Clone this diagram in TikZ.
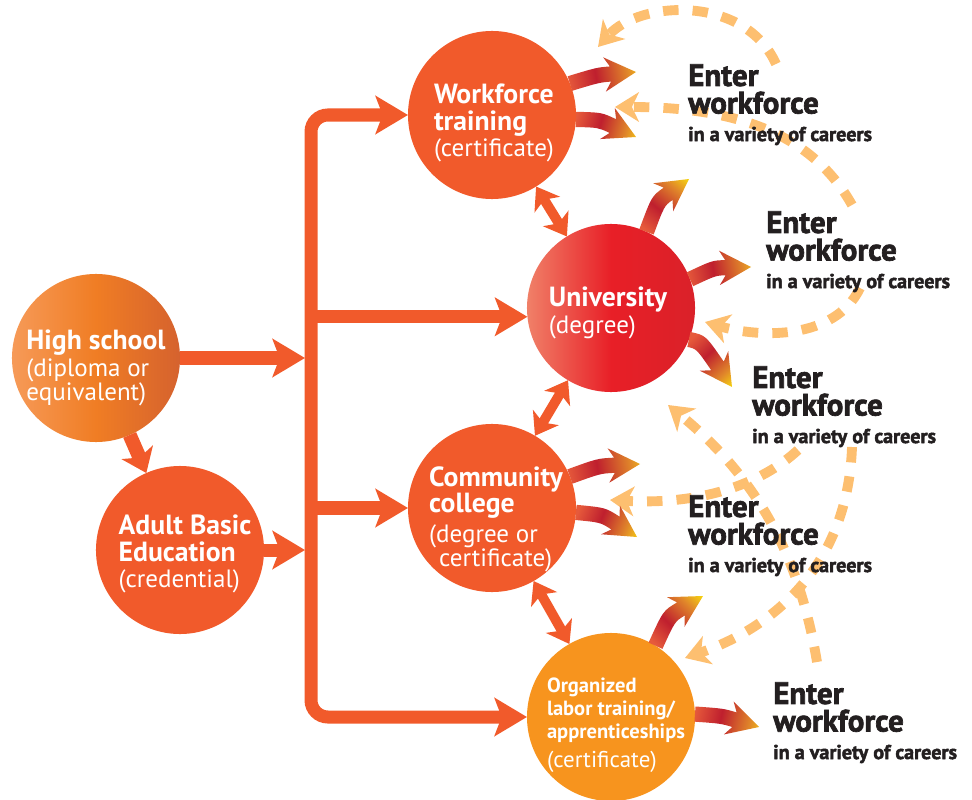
\documentclass[tikz,border=0pt]{standalone}
\usepackage{fontspec}
\setmainfont{PT Sans}
\newfontfamily\heavyfont{PT Sans}[BoldFeatures={FakeBold=2.2}]
\usetikzlibrary{arrows.meta,calc}

\definecolor{pathorange}{HTML}{F15A2B}
\definecolor{hslight}{HTML}{F69A58}
\definecolor{hsmid}{HTML}{F07D24}
\definecolor{hsdark}{HTML}{D5622E}
\definecolor{unilight}{HTML}{F08068}
\definecolor{unired}{HTML}{E81F27}
\definecolor{unidark}{HTML}{DA2129}
\definecolor{laborgold}{HTML}{F7941E}
\definecolor{loopbeige}{HTML}{FDBF70}
\definecolor{inkblack}{HTML}{231F20}
\definecolor{jobbase}{HTML}{E65A3B}
\definecolor{jobcrimson}{HTML}{BF1F2E}
\definecolor{jobamber}{HTML}{E0862A}
\definecolor{jobyellow}{HTML}{F7D80F}

\pgfdeclarehorizontalshading{jobfade}{100bp}{color(0bp)=(jobbase); color(22bp)=(jobbase); color(45bp)=(jobcrimson); color(70bp)=(jobamber); color(86bp)=(jobyellow); color(100bp)=(jobyellow)}

\newcommand{\titlef}{\fontsize{19.7}{19}\selectfont\bfseries}
\newcommand{\parenf}{\fontsize{17.8}{19}\selectfont\mdseries}
\newcommand{\smalltitlef}{\fontsize{14.6}{16.5}\selectfont\bfseries}
\newcommand{\smallparenf}{\fontsize{16.3}{16.5}\selectfont\mdseries}
\newcommand{\jobsmallf}{\fontsize{14.3}{19.6}\selectfont}

% curved shaded arrow: start, control, tip, shading angle
\newcommand{\jobarrow}[4]{%
  \coordinate (jah) at ($(#3)!0.64cm!(#2)$);
  \coordinate (jab) at ($(jah)!0.15cm!(#2)$);
  \coordinate (jasl) at ($(#1)!0.19cm!90:(#2)$);
  \coordinate (jasr) at ($(#1)!0.19cm!-90:(#2)$);
  \coordinate (jahl) at ($(jah)!0.19cm!-90:(#2)$);
  \coordinate (jahr) at ($(jah)!0.19cm!90:(#2)$);
  \coordinate (jabl) at ($(jab)!0.43cm!-90:(#2)$);
  \coordinate (jabr) at ($(jab)!0.43cm!90:(#2)$);
  \coordinate (jaslx) at ($(jasl)+(#2)-(#1)$);
  \coordinate (jasrx) at ($(jasr)+(#2)-(#1)$);
  \coordinate (jahlx) at ($(jahl)+(#2)-(jah)$);
  \coordinate (jahrx) at ($(jahr)+(#2)-(jah)$);
  \coordinate (jacl) at (intersection of jasl--jaslx and jahl--jahlx);
  \coordinate (jacr) at (intersection of jasr--jasrx and jahr--jahrx);
  \shade[shading=jobfade, shading angle=#4] (jasl) .. controls (jacl) .. (jahl) -- (jabl) -- (#3)
    -- (jabr) -- (jahr) .. controls (jacr) .. (jasr) -- cycle;
}

\tikzset{
  flowtip/.tip={Stealth[length=23pt, width=27pt, inset=5pt]},
  duotip/.tip={Stealth[length=15pt, width=21pt, inset=4pt]},
  stubtip/.tip={Stealth[length=16pt, width=24pt, inset=4pt]},
  loophead/.tip={Stealth[length=17pt, width=21pt, inset=5pt]},
  school/.style={circle, minimum size=4.2cm, inner sep=0pt, outer sep=0pt},
  schooltext/.style={inner sep=0pt, text=white, align=left, font=\fontsize{17.8}{19}\selectfont},
  mainline/.style={draw=pathorange, line width=9.25pt},
  duoline/.style={draw=pathorange, line width=7pt, {duotip}-{duotip}},
  returnline/.style={draw=loopbeige, line width=7pt, dash pattern=on 11pt off 10pt, -{loophead}},
  career/.style={anchor=north west, align=left, inner sep=0pt, text=inkblack,
    font=\heavyfont\fontsize{22}{19.6}\selectfont\bfseries}
}

\begin{document}
\begin{tikzpicture}[x=0.025cm, y=-0.025cm]
\useasboundingbox (0,0) rectangle (972,800);

\node[school, left color=hslight, right color=hsdark, middle color=hsmid] (hs) at (96,358) {};
\node[school, fill=pathorange] (abe) at (180,550) {};
\node[school, fill=pathorange] (wt) at (492,115) {};
\node[school, left color=unilight, right color=unidark, middle color=unired] (uni) at (611,308) {};
\node[school, fill=pathorange] (cc) at (492,508) {};
\node[school, fill=laborgold] (ol) at (611,717) {};

\node[schooltext] (hsname) at (96,368) {\titlef High school\\\parenf (diploma or\\[-2pt]\parenf equivalent)};
\node[schooltext] (abename) at (185,554) {\titlef Adult Basic\\\titlef Education\\\parenf (credential)};
\node[schooltext] (wtname) at (494,123) {\titlef Workforce\\\titlef training\\\parenf (certificate)};
\node[schooltext] (uniname) at (608,313) {\titlef University\\\parenf (degree)};
\node[schooltext] (ccname) at (496,519) {\titlef Community\\\titlef college\\[2pt]\parenf (degree or\\[-2pt]\parenf\hspace*{0.4em}certificate)};
\node[schooltext, font=\fontsize{14.6}{16.5}\selectfont] (olname) at (616,725)
  {\smalltitlef Organized\\\smalltitlef labor training/\\\smalltitlef apprenticeships\\[4pt]\smallparenf (certificate)};

% trunk and branches
\coordinate (bar) at (311,0);
\coordinate (barin) at (305,0);
\draw[mainline, {flowtip}-{flowtip}, rounded corners=12pt] (wt.west) -| (bar |- ol.west) -- (ol.west);
\draw[mainline, -{flowtip}] (bar |- uni.186) -- (uni.186);
\draw[mainline, -{flowtip}] (bar |- cc.west) -- (cc.west);
\draw[mainline, -{flowtip}] (hs.east) -- (barin |- hs.east);
\draw[mainline, -{flowtip}] (abe.east) -- (barin |- abe.east);
\draw[mainline, line width=10pt, -{stubtip}] (hs) -- (abe);

\draw[duoline] (wt) -- (uni);
\draw[duoline] (uni) -- (cc);
\draw[duoline] (cc) -- (ol);

% dashed returns
\coordinate (ret1s) at (776,64);  \coordinate (ret1e) at (598,47);
\coordinate (ret2s) at (852,205); \coordinate (ret2e) at (615,107);
\coordinate (ret3s) at (860,288); \coordinate (ret3e) at (705,322);
\coordinate (ret4s) at (817,662); \coordinate (ret4e) at (668,405);
\coordinate (ret5s) at (798,450); \coordinate (ret5e) at (610,500);
\coordinate (ret6s) at (852,447); \coordinate (ret6e) at (685,658);
\draw[returnline] (ret1s) .. controls (745,-5) and (640,0) .. (ret1e);
\draw[returnline] (ret2s) .. controls (810,130) and (730,107) .. (ret2e);
\draw[returnline] (ret3s) .. controls (835,340) and (760,338) .. (ret3e);
\draw[returnline] (ret4s) .. controls (800,560) and (760,480) .. (ret4e);
\draw[returnline] (ret5s) .. controls (760,485) and (700,505) .. (ret5e);
\draw[returnline] (ret6s) .. controls (848,560) and (780,625) .. (ret6e);

% careers
\node[career] (twt) at (688,64) {Enter\\workforce\\\jobsmallf in a variety of careers};
\node[career] (tuni) at (766,211) {Enter\\workforce\\\jobsmallf in a variety of careers};
\node[career] (tuni2) at (752,366) {Enter\\workforce\\\jobsmallf in a variety of careers};
\node[career] (tcc) at (688,495) {Enter\\workforce\\\jobsmallf in a variety of careers};
\node[career] (tol) at (773,682) {Enter\\workforce\\\jobsmallf in a variety of careers};

\coordinate (wtup) at (636,72);
\coordinate (wtdown) at (636,137);
\coordinate (uniup) at (689,179);
\coordinate (uniright) at (751,267);
\coordinate (unidown) at (732,387);
\coordinate (ccup) at (640,464);
\coordinate (ccdown) at (637,537);
\coordinate (olup) at (703,596);
\coordinate (olright) at (759,727);
\jobarrow{wt.22}{598,75}{wtup}{10}
\jobarrow{wt.-3}{600,120}{wtdown}{-16}
\jobarrow{uni.65}{658,201}{uniup}{51}
\jobarrow{uni.20}{714,268}{uniright}{11}
\jobarrow{uni.-22}{701,342}{unidown}{-47}
\jobarrow{cc.22}{599,466}{ccup}{10}
\jobarrow{cc.-3}{603,515}{ccdown}{-22}
\jobarrow{ol.58}{669,616}{olup}{46}
\jobarrow{ol.2}{722,716}{olright}{-12}

\end{tikzpicture}
\end{document}
